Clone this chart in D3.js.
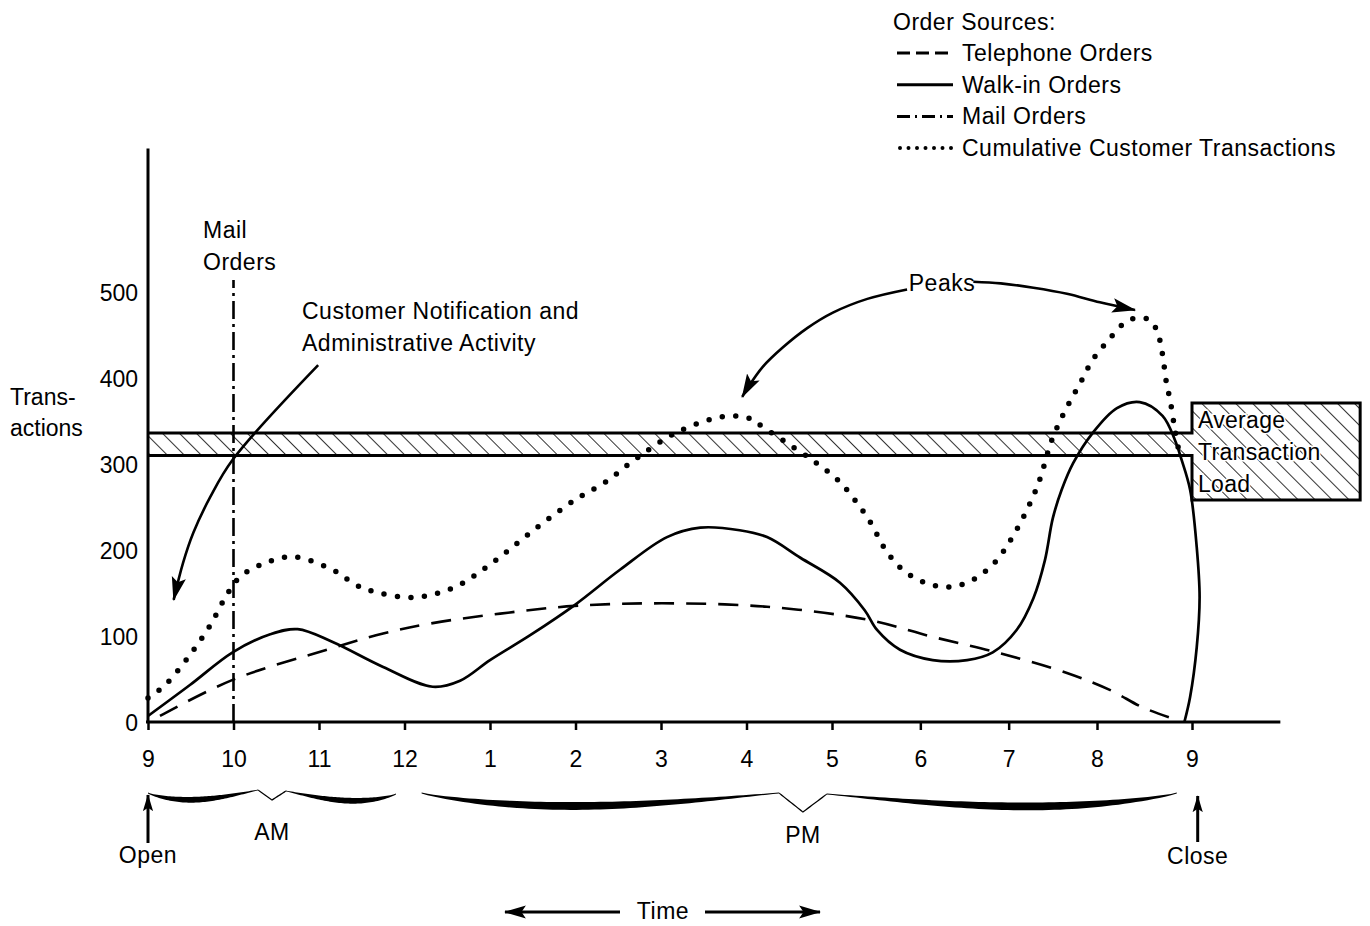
<!DOCTYPE html>
<html><head><meta charset="utf-8">
<script src="https://cdn.jsdelivr.net/npm/d3@7"></script>
<style>
body{margin:0;background:#fff;}
text{font-family:"Liberation Sans",Arial,sans-serif;fill:#000;}
</style></head>
<body>
<script>
// ---------- data ----------
const hourTicks = [0,1,2,3,4,5,6,7,8,9,10,11,12];
const hourLabels = ["9","10","11","12","1","2","3","4","5","6","7","8","9"];
const yTicks = [0,100,200,300,400,500];

// [hours after 9 AM, transactions]
const telephone = [[0.14,7],[0.99,49],[2.16,86],[2.75,103],[3.33,115],[4.12,126],[4.99,135],[6.01,138],[7.24,134],[8.40,119],[9.14,99],[9.90,80],[10.66,57],[11.14,37],[11.48,17],[11.85,2]];
const walkIn = [[0,7],[0.49,43],[0.99,81],[1.43,102],[1.75,108],[2.16,93],[2.75,64],[3.33,41],[3.65,48],[4.0,72],[4.47,101],[4.99,136],[5.52,177],[6.07,215],[6.46,226],[6.92,223],[7.24,215],[7.63,191],[8.09,162],[8.37,130],[8.51,107],[8.77,84],[9.14,72],[9.53,72],[9.82,81],[10.09,107],[10.28,144],[10.41,188],[10.50,237],[10.60,270],[10.73,301],[10.95,336],[11.21,365],[11.45,372],[11.69,356],[11.82,328],[11.89,305],[11.98,270],[12.05,203],[12.08,145],[12.05,87],[11.98,29],[11.92,0]];
const cumulative = [[0,28],[0.20,43],[0.49,78],[0.73,113],[0.94,151],[1.08,169],[1.37,185],[1.70,192],[2.16,177],[2.44,159],[2.71,150],[3.12,145],[3.57,156],[4.0,183],[4.47,220],[4.99,258],[5.35,279],[5.72,307],[6.19,337],[6.73,355],[7.04,353],[7.19,343],[7.54,320],[7.82,301],[8.07,281],[8.26,258],[8.43,233],[8.62,198],[8.80,177],[9.03,163],[9.28,157],[9.53,162],[9.82,183],[10.07,220],[10.32,273],[10.50,331],[10.66,366],[10.81,394],[10.95,421],[11.12,444],[11.29,464],[11.42,470],[11.56,467],[11.64,452],[11.69,427],[11.73,395],[11.77,374],[11.82,340],[11.86,316]];
const mailOrdersLine = [[1,0],[1,514]];
const avgLoad = [310,336];           // band low / high
const avgBox = [12,13.77,258,371];   // x0,x1,y0,y1 in data units
const customerArrow = [[1.99,415],[0.99,305],[0.73,262],[0.53,220],[0.41,185],[0.30,142]];
const peaksLeft = [[8.85,503],[8.40,492],[8.01,476],[7.71,458],[7.43,436],[7.19,413],[7.01,388],[6.95,378]];
const peaksRight = [[9.60,512],[9.91,510],[10.28,505],[10.66,498],[11.03,488],[11.40,479]];
const legendItems = ["Telephone Orders","Walk-in Orders","Mail Orders","Cumulative Customer Transactions"];

// ---------- setup ----------
const W=1370,H=926;
const svg=d3.select("body").append("svg").attr("width",W).attr("height",H);
const x=d3.scaleLinear().domain([0,8,11,12]).range([148,832,1097,1192]);
const y=d3.scaleLinear().domain([0,500]).range([722,292]);
const FS=23;

const defs=svg.append("defs");
const pat=defs.append("pattern").attr("id","hatch").attr("patternUnits","userSpaceOnUse")
  .attr("width",12).attr("height",12).attr("patternTransform","rotate(-45)");
pat.append("line").attr("x1",0).attr("y1",0).attr("x2",0).attr("y2",12).attr("stroke","#000").attr("stroke-width",1.6);
function marker(id,w,h){
  defs.append("marker").attr("id",id).attr("viewBox","0 0 20 12").attr("refX",19).attr("refY",6)
   .attr("markerUnits","userSpaceOnUse").attr("markerWidth",w).attr("markerHeight",h).attr("orient","auto")
   .append("path").attr("d","M0,0 L20,6 L0,12 L4,6 Z").attr("fill","#000");
}
marker("ah",24,15); marker("ahs",17,11); marker("aht",22,14);

const line=d3.line().x(d=>x(d[0])).y(d=>y(d[1])).curve(d3.curveCatmullRom.alpha(0.5));

// ---------- average transaction load band + box ----------
svg.append("rect").attr("x",x(0)).attr("y",y(avgLoad[1])).attr("width",x(avgBox[0])-x(0))
  .attr("height",y(avgLoad[0])-y(avgLoad[1])).attr("fill","url(#hatch)");
svg.append("rect").attr("x",x(avgBox[0])).attr("y",y(avgBox[3])).attr("width",x(avgBox[1])-x(avgBox[0]))
  .attr("height",y(avgBox[2])-y(avgBox[3])).attr("fill","url(#hatch)");
svg.append("path").attr("d",
  `M${x(0)},${y(avgLoad[1])}H${x(avgBox[0])}V${y(avgBox[3])}H${x(avgBox[1])}V${y(avgBox[2])}H${x(avgBox[0])}V${y(avgLoad[0])}H${x(0)}`)
  .attr("fill","none").attr("stroke","#000").attr("stroke-width",3);
const boxT=svg.append("g").attr("font-size",FS);
[["Average",428],["Transaction",460],["Load",492]].forEach(([t,by])=>{
  boxT.append("text").attr("x",x(avgBox[0])+6).attr("y",by).text(t)
   .attr("stroke","#fff").attr("stroke-width",3).attr("paint-order","stroke").style("letter-spacing","0.3px");
});

// ---------- axes ----------
const xAxis=svg.append("g").attr("transform",`translate(0,${y(0)})`)
  .call(d3.axisBottom(x).tickValues(hourTicks).tickFormat((d,i)=>hourLabels[i]).tickSize(8).tickPadding(21));
xAxis.select(".domain").remove();
xAxis.selectAll(".tick line").attr("stroke-width",2.5);
xAxis.selectAll(".tick text").attr("font-size",FS).attr("font-family","Liberation Sans, Arial, sans-serif");
svg.append("line").attr("x1",x(0)-2).attr("x2",x(12.93)).attr("y1",y(0)).attr("y2",y(0)).attr("stroke","#000").attr("stroke-width",3);

const yAxis=svg.append("g").attr("transform",`translate(${x(0)-10},0)`)
  .call(d3.axisLeft(y).tickValues(yTicks).tickSize(0).tickPadding(0));
yAxis.select(".domain").remove();
yAxis.selectAll(".tick text").attr("font-size",FS).attr("font-family","Liberation Sans, Arial, sans-serif").attr("dy","0.36em");
svg.append("line").attr("x1",x(0)).attr("x2",x(0)).attr("y1",y(0)+1).attr("y2",y(667)).attr("stroke","#000").attr("stroke-width",3);

svg.append("text").attr("x",10).attr("y",405).attr("font-size",FS).text("Trans-");
svg.append("text").attr("x",10).attr("y",436).attr("font-size",FS).text("actions");

// ---------- series ----------
svg.append("path").datum(mailOrdersLine).attr("d",line.curve(d3.curveLinear)).attr("fill","none")
  .attr("stroke","#000").attr("stroke-width",2.6).attr("stroke-dasharray","18 5 3 5");
line.curve(d3.curveCatmullRom.alpha(0.5));
svg.append("path").datum(telephone).attr("d",line).attr("fill","none").attr("stroke","#000")
  .attr("stroke-width",2.6).attr("stroke-dasharray","20 12");
svg.append("path").datum(walkIn).attr("d",line).attr("fill","none").attr("stroke","#000").attr("stroke-width",2.7);
svg.append("path").datum(cumulative).attr("d",line).attr("fill","none").attr("stroke","#000")
  .attr("stroke-width",5.5).attr("stroke-linecap","round").attr("stroke-dasharray","0 13.5");

// ---------- annotations ----------
const ann=svg.append("g").attr("font-size",FS).style("letter-spacing","0.5px");
ann.append("text").attr("x",203).attr("y",238).text("Mail");
ann.append("text").attr("x",203).attr("y",270).text("Orders");
ann.append("text").attr("x",302).attr("y",319).text("Customer Notification and");
ann.append("text").attr("x",302).attr("y",351).text("Administrative Activity");
ann.append("text").attr("x",942).attr("y",291).attr("text-anchor","middle").text("Peaks");

const aline=d3.line().x(d=>x(d[0])).y(d=>y(d[1])).curve(d3.curveCatmullRom.alpha(0.5));
[customerArrow,peaksLeft,peaksRight].forEach(a=>{
  svg.append("path").datum(a).attr("d",aline).attr("fill","none").attr("stroke","#000")
   .attr("stroke-width",2.6).attr("marker-end","url(#ah)");
});

// ---------- legend ----------
const lg=svg.append("g").attr("font-size",FS).style("letter-spacing","0.5px");
lg.append("text").attr("x",893).attr("y",30).text("Order Sources:");
const dashes=["13 6","none","13 5 2 5","0 8.5"];
legendItems.forEach((t,i)=>{
  const by=61+i*31.7;
  lg.append("line").attr("x1",i==3?900:897).attr("x2",i==3?952:953).attr("y1",by-8).attr("y2",by-8)
   .attr("stroke","#000").attr("stroke-width",i==3?4:3).attr("stroke-dasharray",dashes[i])
   .attr("stroke-linecap",i==3?"round":"butt");
  lg.append("text").attr("x",962).attr("y",by).text(t);
});

// ---------- braces ----------
function halfBrace(xEnd,xTip,yEnd,dip,rise,tipDrop,wMax,tipW){
  const pts=[];const N=60;const dir=Math.sign(xTip-xEnd);
  const xBar=xTip-dir*tipW;
  for(let i=0;i<=N;i++){const u=i/N;const xx=xEnd+(xBar-xEnd)*u;
    const s=Math.sin(Math.PI*Math.pow(u,0.8));
    pts.push({x:xx,yc:yEnd+dip*s-rise*u,w:0.8+wMax*Math.pow(s,1.2)});}
  const yb=yEnd-rise;
  for(let i=1;i<=10;i++){const v=i/10;pts.push({x:xBar+(xTip-xBar)*v,yc:yb+tipDrop*v,w:1.6});}
  return pts;
}
const barea=d3.area().x(d=>d.x).y0(d=>d.yc-d.w/2).y1(d=>d.yc+d.w/2);
const braces=[
  halfBrace(x(0),x(1.45),793,8,3,10,5,14), halfBrace(x(2.9),x(1.45),794,8,3,9,5,14),
  halfBrace(x(3.2),x(7.66),793,13,0,19,7,24), halfBrace(x(11.84),x(7.66),793,13,-1,18,7,24)
];
braces.forEach(b=>svg.append("path").attr("d",barea(b)).attr("fill","#000"));

const bt=svg.append("g").attr("font-size",FS).attr("text-anchor","middle").style("letter-spacing","0.5px");
bt.append("text").attr("x",x(1.45)).attr("y",840).text("AM");
bt.append("text").attr("x",x(7.66)).attr("y",843).text("PM");
bt.append("text").attr("x",x(0)).attr("y",863).text("Open");
bt.append("text").attr("x",x(12.06)).attr("y",864).text("Close");
bt.append("text").attr("x",663).attr("y",919).text("Time");
[[x(0),843,x(0),795,"ahs"],[x(12.06),842,x(12.06),796,"ahs"],[620,912,505,912,"aht"],[705,912,820,912,"aht"]].forEach(([a,b,c,d,m])=>{
  svg.append("line").attr("x1",a).attr("y1",b).attr("x2",c).attr("y2",d).attr("stroke","#000")
   .attr("stroke-width",3).attr("marker-end",`url(#${m})`);
});
</script>
</body></html>
